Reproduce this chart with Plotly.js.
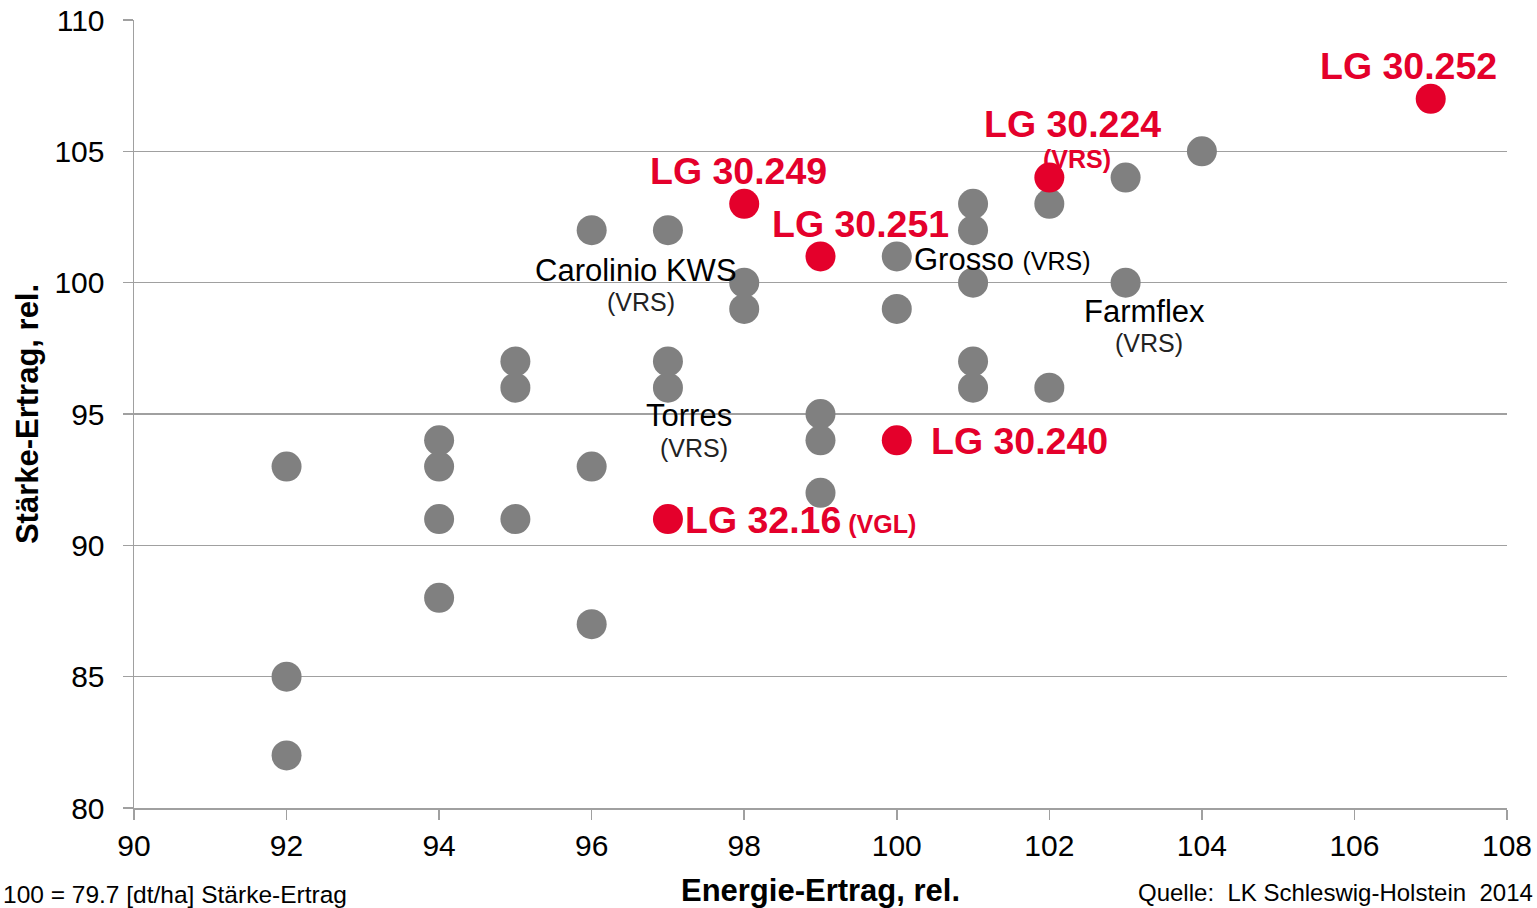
<!DOCTYPE html>
<html>
<head>
<meta charset="utf-8">
<script src="https://cdn.plot.ly/plotly-3.0.1.min.js"></script>
<style>html,body{margin:0;padding:0;background:#fff;}#chart{width:1537px;height:908px;}</style>
</head>
<body>
<div id="chart"></div>
<script>
// Grey varieties: Energie-Ertrag (x) vs Stärke-Ertrag (y), relative
const greyEnergie = [92,92,92, 94,94,94,94, 95,95,95, 96,96,96, 97,97,97, 98,98, 99,99,99, 100,100, 101,101,101,101,101, 102,102, 103,103, 104];
const greyStaerke = [93,85,82, 94,93,91,88, 97,96,91, 102,93,87, 102,97,96, 100,99, 95,94,92, 101,99, 103,102,100,97,96, 103,96, 104,100, 105];
// Highlighted LG varieties
const lgNames   = ["LG 30.249","LG 30.251","LG 30.224","LG 30.252","LG 30.240","LG 32.16"];
const lgEnergie = [98, 99, 102, 107, 100, 97];
const lgStaerke = [103, 101, 104, 107, 94, 91];
const xTicks = [90,92,94,96,98,100,102,104,106,108];
const yTicks = [80,85,90,95,100,105,110];

const RED = '#e4002b';
const GREY = '#808080';
const FONT = 'Liberation Sans, Arial, sans-serif';

const traces = [
  {x: greyEnergie, y: greyStaerke, type:'scatter', mode:'markers',
   marker:{size:30, color:GREY}, hoverinfo:'x+y', showlegend:false},
  {x: lgEnergie, y: lgStaerke, text: lgNames, type:'scatter', mode:'markers',
   marker:{size:30, color:RED}, hoverinfo:'text+x+y', showlegend:false}
];

function ann(x, y, text, opts) {
  return Object.assign({x:x, y:y, xref:'x', yref:'y', text:text, showarrow:false,
    font:{family:FONT, size:31, color:'#000'}, xanchor:'center', yanchor:'middle'}, opts||{});
}
const redBig = {family:FONT, size:37.5, color:RED};
const redSmall = {family:FONT, size:25, color:RED};
const blkSmall = {family:FONT, size:25, color:'#222'};
const blk = {family:FONT, size:31, color:'#000'};

const annotations = [
  ann(106.71,108.25,'<b>'+lgNames[3]+'</b>',{font:redBig}),
  ann(102.31,106.04,'<b>'+lgNames[2]+'</b>',{font:redBig}),
  ann(102.36,104.71,'<b>(VRS)</b>',{font:redSmall}),
  ann(97.93,104.25,'<b>'+lgNames[0]+'</b>',{font:redBig}),
  ann(99.53,102.23,'<b>'+lgNames[1]+'</b>',{font:redBig}),
  ann(100.42,93.97,'<b>'+lgNames[4]+'</b>',{font:redBig, xanchor:'left'}),
  ann(97.2,90.97,'<b>'+lgNames[5]+'</b><b><span style="font-size:25px"> (VGL)</span></b>',{font:redBig, xanchor:'left'}),
  ann(96.58,100.48,'Carolinio KWS',{font:blk}),
  ann(96.65,99.27,'(VRS)',{font:blkSmall}),
  ann(100.2,100.9,'Grosso <span style="font-size:25px">(VRS)</span>',{font:blk, xanchor:'left'}),
  ann(103.25,98.92,'Farmflex',{font:blk}),
  ann(103.31,97.70,'(VRS)',{font:blkSmall}),
  ann(97.28,94.93,'Torres',{font:blk}),
  ann(97.34,93.71,'(VRS)',{font:blkSmall}),
  {xref:'paper', yref:'paper', x:-0.097, y:-0.11, xanchor:'left', yanchor:'middle', showarrow:false,
   text:'100 = 79.7 [dt/ha] Stärke-Ertrag', font:{family:FONT, size:24.5, color:'#000'}},
  {xref:'paper', yref:'paper', x:1.0204, y:-0.107, xanchor:'right', yanchor:'middle', showarrow:false,
   text:'Quelle:  LK Schleswig-Holstein  2014', font:{family:FONT, size:24, color:'#000'}}
];

const layout = {
  width:1537, height:908,
  margin:{l:134, r:30, t:20, b:100},
  paper_bgcolor:'#fff', plot_bgcolor:'#fff',
  font:{family:FONT, color:'#000'},
  xaxis:{range:[90,108], tickvals:xTicks, ticktext:xTicks.map(String),
    showgrid:false, zeroline:false, showline:true, linecolor:'#a0a0a0', linewidth:1.5,
    ticks:'outside', ticklen:10, tickcolor:'#a0a0a0', tickwidth:1.5,
    tickfont:{family:FONT, size:30, color:'#000'},
    title:{text:'<b>Energie-Ertrag, rel.</b>', font:{family:FONT, size:31, color:'#000'}, standoff:20}},
  yaxis:{range:[80,110], tickvals:yTicks, ticktext:yTicks.map(String),
    showgrid:true, gridcolor:'#a0a0a0', gridwidth:1.5, zeroline:false,
    showline:true, linecolor:'#a0a0a0', linewidth:1.5,
    ticks:'outside', ticklen:10, tickcolor:'#a0a0a0', tickwidth:1.5,
    ticklabelstandoff:12,
    tickfont:{family:FONT, size:30, color:'#000'},
    title:{text:'<b>Stärke-Ertrag, rel.</b>', font:{family:FONT, size:31, color:'#000'}, standoff:6}},
  annotations: annotations,
  showlegend:false
};

Plotly.newPlot('chart', traces, layout, {displayModeBar:false, staticPlot:true});
</script>
</body>
</html>
